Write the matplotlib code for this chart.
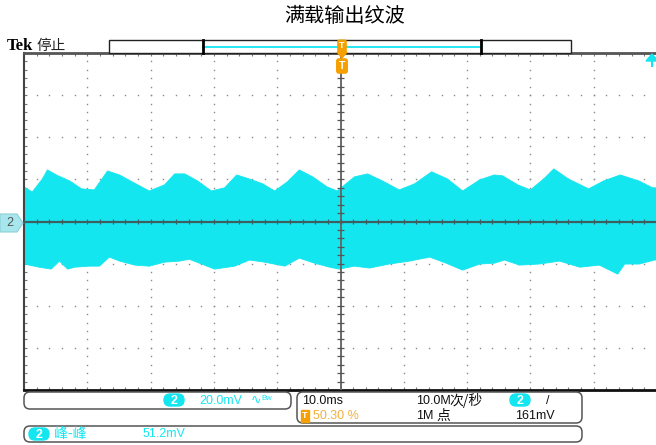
import numpy as np
import matplotlib
matplotlib.use('Agg')
import matplotlib.pyplot as plt
from matplotlib.patches import FancyBboxPatch, Rectangle, Polygon

plt.rcParams['font.family'] = ['Liberation Sans', 'Noto Sans CJK SC', 'DejaVu Sans']

# scope settings
time_per_div = 10.0     # ms
volts_per_div = 20.0    # mV
n_hdiv, n_vdiv = 10, 8

# waveform envelope, channel 2 (time in ms, level in mV)
top_t = [-50.0, -48.7, -47.1, -46.3, -44.9, -42.8, -40.9, -38.9, -36.8, -34.9,
         -32.9, -30.2, -27.8, -26.2, -24.6, -22.6, -20.4, -18.3, -16.4, -14.4,
         -12.3, -10.4, -8.4, -6.5, -4.4, -2.1, -0.5, 2.2, 4.3, 6.6,
         9.3, 11.7, 14.4, 16.9, 19.3, 22.0, 24.3, 25.6, 28.0, 30.0,
         32.1, 33.7, 36.0, 39.2, 41.6, 44.2, 47.1, 49.3, 50.0]
top_mv = [16.4, 14.0, 20.2, 24.5, 22.1, 19.3, 15.5, 15.0, 24.0, 22.1,
          18.8, 14.5, 17.4, 22.6, 22.6, 19.3, 14.5, 16.0, 22.1, 20.2,
          17.9, 14.5, 18.8, 24.5, 21.2, 16.4, 14.5, 21.2, 22.6, 19.3,
          15.0, 17.9, 23.6, 20.2, 14.5, 19.8, 22.1, 21.7, 17.4, 15.0,
          20.2, 25.0, 20.2, 15.5, 19.3, 22.1, 19.3, 16.0, 16.0]
bot_t = [-50.0, -47.6, -45.7, -44.4, -43.1, -42.0, -39.7, -38.1, -36.5, -34.9,
         -32.5, -30.2, -27.8, -25.4, -23.9, -21.5, -19.9, -16.7, -14.4, -12.0,
         -8.8, -6.5, -4.1, -1.7, -0.2, 2.2, 4.6, 7.7, 10.9, 14.1,
         16.7, 19.3, 22.0, 24.3, 25.9, 28.3, 31.4, 34.6, 37.8, 40.9,
         43.8, 44.9, 47.2, 49.6, 50.0]
bot_mv = [-20.2, -21.7, -22.6, -18.8, -22.6, -21.7, -21.2, -21.2, -16.9, -18.8,
          -20.7, -21.2, -19.3, -18.8, -17.9, -20.7, -22.6, -21.2, -18.3, -19.3,
          -21.2, -17.4, -19.8, -21.7, -22.6, -21.2, -22.1, -20.2, -18.8, -16.9,
          -19.8, -23.1, -20.2, -19.8, -18.3, -20.7, -20.2, -18.8, -21.7, -20.7,
          -25.0, -20.2, -20.2, -18.3, -18.3]

title = '满载输出纹波'
ch_scale = '20.0mV'
h_scale = '10.0ms'
sample_rate = '10.0M次/秒'
record_len = '1M 点'
trig_pos = '50.30 %'
trig_level = '161mV'
meas_name = '峰-峰'
meas_value = '51.2mV'

CYAN = '#14e6f0'
ORANGE = '#f5a000'
W, H = 656, 445

fig = plt.figure(figsize=(W / 100, H / 100), dpi=100)

# graticule area in pixels: x 24..657, y 53..390
ax = fig.add_axes([24 / W, 1 - 390 / H, 633 / W, 337 / H])
xmax = time_per_div * n_hdiv / 2
ymax = volts_per_div * n_vdiv / 2
ax.set_xlim(-xmax, xmax)
ax.set_ylim(-ymax, ymax)
ax.set_xticks([])
ax.set_yticks([])
ax.spines['right'].set_visible(False)
ax.spines['top'].set_color('#555555')
ax.spines['top'].set_linewidth(2)
ax.spines['left'].set_color('#444444')
ax.spines['left'].set_linewidth(1.5)
ax.spines['bottom'].set_color('#111111')
ax.spines['bottom'].set_linewidth(2)

# dotted graticule
minor_x = np.linspace(-xmax, xmax, n_hdiv * 5 + 1)
minor_y = np.linspace(-ymax, ymax, n_vdiv * 5 + 1)
for gx in np.linspace(-xmax, xmax, n_hdiv + 1)[1:-1]:
    if gx == 0:
        continue
    ax.plot(np.full_like(minor_y, gx), minor_y, ls='none', marker='s',
            ms=1.0, mec='none', mfc='#8a8a8a', zorder=1)
for gy in np.linspace(-ymax, ymax, n_vdiv + 1)[1:-1]:
    if gy == 0:
        continue
    ax.plot(minor_x, np.full_like(minor_x, gy), ls='none', marker='s',
            ms=1.0, mec='none', mfc='#8a8a8a', zorder=1)

# border ticks
dx = 0.5
dy = 1.4
ax.vlines(minor_x, ymax - dy, ymax, color='#777777', lw=0.8, zorder=1)
ax.vlines(minor_x, -ymax, -ymax + dy, color='#777777', lw=0.8, zorder=1)
ax.hlines(minor_y, -xmax, -xmax + dx, color='#777777', lw=0.8, zorder=1)

# waveform
poly_t = top_t + bot_t[::-1]
poly_v = top_mv + bot_mv[::-1]
ax.fill(poly_t, poly_v, color=CYAN, lw=0.6, ec=CYAN, zorder=2)

# centre cross with ticks
ax.axhline(0, color='#3c5f62', lw=1.6, zorder=3)
ax.axvline(0, color='#6a6a6a', lw=1.4, zorder=3)
ax.vlines(minor_x, -dy, dy, color='#3c5f62', lw=0.9, zorder=3)
ax.hlines(minor_y, -dx, dx, color='#555555', lw=0.9, zorder=3)

# overlay in pixel coordinates
ov = fig.add_axes([0, 0, 1, 1])
ov.set_xlim(0, W)
ov.set_ylim(H, 0)
ov.axis('off')
ov.patch.set_alpha(0)

ov.text(345, 17, title, ha='center', va='center', fontsize=14.5,
        family=['Noto Sans CJK SC', 'DejaVu Sans'])

ov.text(7, 46, 'Tek', ha='left', va='center', fontsize=12, fontweight='bold',
        family='Liberation Serif')
ov.text(36, 46, '停止', ha='left', va='center', fontsize=10.5,
        family=['Noto Sans CJK SC', 'DejaVu Sans'], color='#222222')

# record view bar
ov.add_patch(Rectangle((109, 40), 462, 13, fc='white', ec='#222222', lw=1))
ov.plot([203, 481], [46.5, 46.5], color=CYAN, lw=1.3)
ov.plot([203, 203], [40, 53], color='black', lw=2)
ov.plot([481, 481], [40, 53], color='black', lw=2)

# trigger markers
ov.text(342, 46, 'T', ha='center', va='center', fontsize=6.5, color='white',
        fontweight='bold',
        bbox=dict(boxstyle='round,pad=0.15', fc=ORANGE, ec=ORANGE))
ov.add_patch(Polygon([[337, 52], [347, 52], [342, 58]], fc=ORANGE, ec=ORANGE))
ov.text(342, 66, 'T', ha='center', va='center', fontsize=7.5, color='white',
        fontweight='bold',
        bbox=dict(boxstyle='round,pad=0.2', fc=ORANGE, ec=ORANGE))

# trigger level off-screen arrow
ov.add_patch(Polygon([[646, 61], [658, 61], [652, 54]], fc=CYAN, ec=CYAN))
ov.plot([652, 652], [60, 66], color=CYAN, lw=1.5)

# channel 2 ground marker
ov.add_patch(Polygon([[0, 214], [17, 214], [23, 223], [17, 232], [0, 232]],
                     fc='#a6e6ec', ec='#8ccfd6', lw=0.8))
ov.text(10, 223.5, '2', ha='center', va='center', fontsize=9, color='#555555')

# status boxes
box_kw = dict(boxstyle='round,pad=0,rounding_size=6', fc='white',
              ec='#555555', lw=1.1)
ov.add_patch(FancyBboxPatch((24, 392), 267, 17, **box_kw))
ov.add_patch(FancyBboxPatch((297, 392), 285, 31, **box_kw))
ov.add_patch(FancyBboxPatch((24, 426), 558, 16, **box_kw))


def badge(x, y):
    ov.add_patch(FancyBboxPatch((x - 10, y - 6), 20, 12,
                                boxstyle='round,pad=0,rounding_size=6',
                                fc=CYAN, ec=CYAN))
    ov.text(x, y + 0.5, '2', ha='center', va='center', fontsize=9,
            color='white', fontweight='bold')


fs = 9
cjk = ['Noto Sans CJK SC', 'DejaVu Sans']
badge(174, 400)
ov.text(199, 400.5, ch_scale, ha='left', va='center', fontsize=fs, color=CYAN)
ov.text(251, 400.5, '\u223f', ha='left', va='center', fontsize=fs,
        color=CYAN, family='DejaVu Sans')
ov.text(261, 399, 'Bw', ha='left', va='center', fontsize=5.5, color=CYAN)

ov.text(302, 400.5, h_scale, ha='left', va='center', fontsize=fs,
        color='#111111')
ov.text(416, 400.5, '10.0M', ha='left', va='center', fontsize=fs,
        color='#111111')
ov.text(449, 400, sample_rate[5:], ha='left', va='center', fontsize=10,
        color='#111111', family=cjk)
badge(520, 400)
ov.text(546, 400.5, '/', ha='left', va='center', fontsize=fs, color='#111111')

ov.text(305, 416, 'T', ha='center', va='center', fontsize=6.5, color='white',
        fontweight='bold',
        bbox=dict(boxstyle='square,pad=0.15', fc=ORANGE, ec=ORANGE))
ov.text(313, 416, trig_pos, ha='left', va='center', fontsize=fs,
        color='#f0b040')
ov.text(416, 416, record_len[:2], ha='left', va='center', fontsize=fs,
        color='#111111')
ov.text(436, 416, record_len[3:], ha='left', va='center', fontsize=10,
        color='#111111', family=cjk)
ov.text(515, 416, trig_level, ha='left', va='center', fontsize=fs,
        color='#111111')

badge(39, 434)
ov.text(54, 434, meas_name, ha='left', va='center', fontsize=10, color=CYAN,
        family=cjk)
ov.text(143, 434, meas_value, ha='left', va='center', fontsize=fs, color=CYAN)

fig.savefig('out.png', dpi=100)
